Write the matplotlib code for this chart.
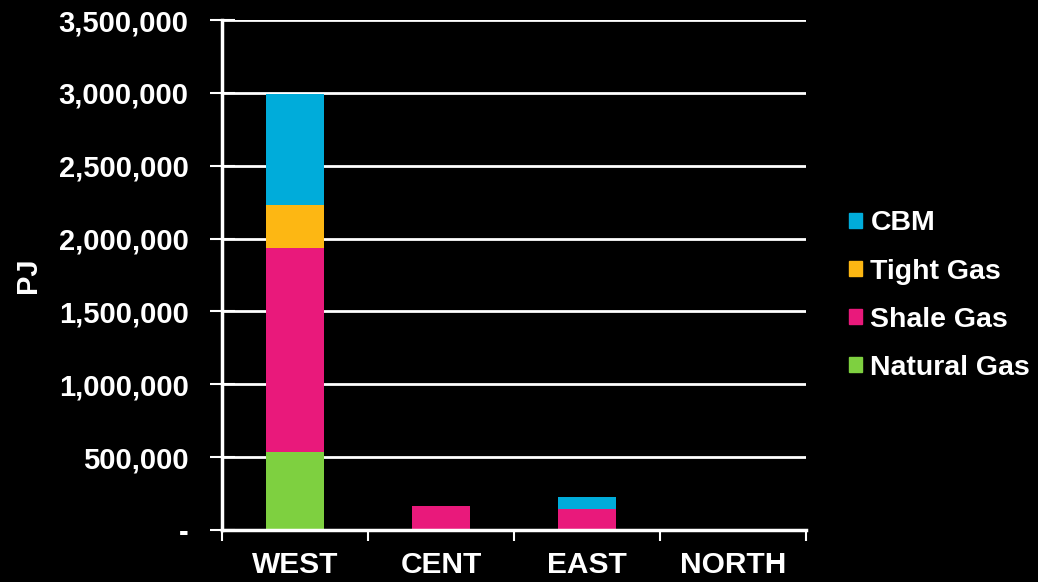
import matplotlib
matplotlib.use("Agg")
import matplotlib.pyplot as plt
import numpy as np
from matplotlib.patches import Patch
from matplotlib.ticker import FuncFormatter

regions = ["WEST", "CENT", "EAST", "NORTH"]
natural_gas = [535000, 0, 0, 0]
shale_gas = [1398000, 165000, 142000, 0]
tight_gas = [295000, 0, 0, 0]
cbm = [762000, 0, 82000, 0]

series = [
    ("Natural Gas", natural_gas, "#7ED040"),
    ("Shale Gas", shale_gas, "#E9197B"),
    ("Tight Gas", tight_gas, "#FDB713"),
    ("CBM", cbm, "#00ACDA"),
]

plt.rcParams["font.family"] = ["Liberation Sans", "DejaVu Sans"]
plt.rcParams["font.weight"] = "bold"

fig = plt.figure(figsize=(10.38, 5.82), dpi=100, facecolor="black")
ax = fig.add_axes([0.2139, 0.0893, 0.5626, 0.8763], facecolor="black")

x = np.arange(len(regions))
bottom = np.zeros(len(regions))
for name, vals, col in series:
    vals = np.array(vals, dtype=float)
    ax.bar(x, vals, width=0.4, bottom=bottom, color=col, label=name, zorder=3)
    bottom += vals

ax.set_xlim(-0.5, len(regions) - 0.5)
ax.set_ylim(0, 3500000)
ax.set_yticks(np.arange(0, 3500001, 500000))
ax.yaxis.set_major_formatter(FuncFormatter(lambda v, p: "-" if v == 0 else f"{v:,.0f}"))
ax.grid(axis="y", color="white", lw=2, zorder=1)

ax.set_xticks(x)
ax.set_xticklabels(regions)
ax.set_xticks(np.arange(-0.5, len(regions)), minor=True)
ax.tick_params(axis="x", which="major", length=0, pad=15, colors="white", labelsize=21.5)
ax.tick_params(axis="x", which="minor", length=8, width=1.5, color="white", direction="out")
ax.tick_params(axis="y", length=18, width=1.5, direction="inout", colors="white",
               labelsize=21, pad=15)
for lab in ax.get_xticklabels() + ax.get_yticklabels():
    lab.set_fontweight("bold")

for side in ("top", "right"):
    ax.spines[side].set_visible(False)
for side in ("left", "bottom"):
    ax.spines[side].set_color("white")
    ax.spines[side].set_linewidth(2.5)
    ax.spines[side].set_zorder(4)

ax.set_ylabel("PJ", color="white", fontsize=21, fontweight="bold", labelpad=12)

handles = [Patch(color=col, label=name) for name, _, col in reversed(series)]
leg = fig.legend(handles=handles, loc="center left", bbox_to_anchor=(0.807, 0.492),
                 frameon=False, fontsize=20.5, handlelength=0.45, handleheight=0.45,
                 handletextpad=0.3, labelspacing=0.78, borderaxespad=0)
for t in leg.get_texts():
    t.set_color("white")
    t.set_fontweight("bold")

fig.savefig("out.png", dpi=100, facecolor="black")
